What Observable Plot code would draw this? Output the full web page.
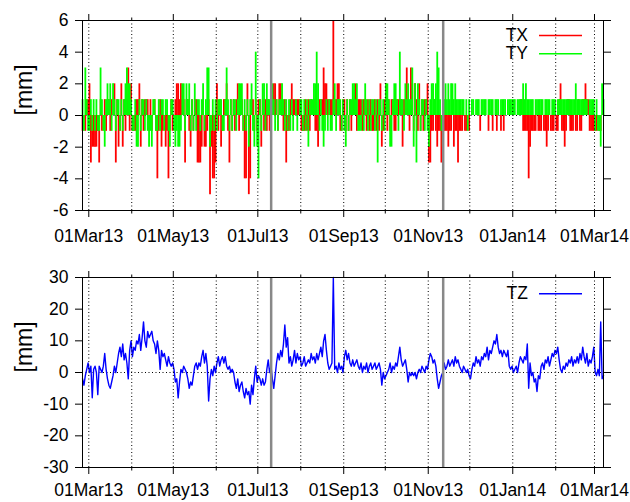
<!DOCTYPE html>
<html><head><meta charset="utf-8">
<script src="https://cdn.jsdelivr.net/npm/d3@7"></script>
<script src="https://cdn.jsdelivr.net/npm/@observablehq/plot@0.6"></script>
<style>
html,body{margin:0;padding:0;background:#fff;}
#chart svg{display:block;}
</style></head><body><div id="chart"></div>
<script>
const startDay = "2013-02-24";
const tx = [
-1,0,-1,1,1,2,-3,-2,-2,-2,
-2,-1,-3,1,-1,0,1,-1,0,1,
-1,1,0,2,-3,1,-2,-1,2,-2,
1,-1,1,3,-1,2,-1,-1,-1,1,
1,2,-2,1,-1,1,1,1,-1,1,
-1,0,1,-1,-4,-1,1,-2,-1,0,
-2,-1,-4,-1,1,-1,0,1,2,2,
1,2,1,1,-3,1,1,-1,-2,1,
-1,1,1,-3,-3,-3,-2,1,-2,-2,
-1,1,-5,-2,-4,-4,-3,2,-1,1,
-2,-1,1,1,2,-1,-3,1,-1,1,
-1,1,2,-1,1,1,-1,-4,-4,2,
-5,-4,1,1,-1,1,-1,1,1,-2,
1,-1,1,-1,1,-1,-1,1,2,2,
1,-1,2,2,1,-1,1,-3,-1,-1,
1,2,1,1,1,1,1,1,-1,-1,
-1,1,-1,1,-1,1,0,1,-1,-1,
-2,1,1,1,3,2,2,1,1,1,
1,6,1,1,2,2,-1,-1,1,1,
-1,1,-1,1,-1,1,1,2,-1,1,
1,1,-1,1,1,-1,1,-1,1,-1,
-1,1,-1,1,-1,2,-2,-1,1,2,
-1,1,-1,1,1,-1,-1,1,1,1,
1,-2,1,1,3,1,-1,3,2,-1,
2,1,-1,2,-1,1,-1,1,1,2,
-3,-3,-1,-1,1,-1,-2,-1,-1,-3,
-3,-1,-1,-1,-2,-1,-1,1,-2,-1,
-1,-3,-1,-1,-1,0,-1,-1,0,-1,
0,0,0,0,0,0,0,-1,0,0,
0,0,0,-1,0,0,-1,0,0,-1,
0,0,-1,0,-1,0,0,0,0,0,
0,0,0,0,0,0,1,1,-1,-1,
-1,-1,-4,-2,-1,-1,-1,-1,0,-1,
-1,-1,0,-1,-1,-2,-1,0,-1,-1,
-1,0,-1,-1,1,2,-1,-1,-2,-1,
1,1,-1,-1,-1,0,-1,-1,1,-1,
-1,1,1,2,1,1,-1,-1,-1,-1,
-1,-1,0,-1,-1,0,0];
const ty = [
1,-1,3,1,-1,-1,1,-1,1,-1,
1,-1,-1,3,1,-1,-2,1,2,1,
2,-1,2,1,-1,1,1,-1,1,-1,
1,2,3,2,2,1,-1,-1,1,-2,
-2,1,-1,1,1,-1,1,-1,-2,-1,
-2,1,1,-1,-1,1,-1,1,1,-1,
1,1,-1,-2,1,1,-1,-2,-1,-2,
-2,-1,2,2,-1,2,1,2,-1,1,
-1,2,-1,1,1,-1,1,2,-1,1,
3,3,-2,-1,1,-1,1,-1,1,1,
1,-1,-1,1,3,1,-1,1,-1,1,
1,-1,1,2,2,2,-1,1,-1,1,
-2,1,2,-1,-2,4,-2,-4,1,-1,
2,2,-1,2,1,1,-1,2,1,-1,
1,-1,1,1,2,1,-1,1,-1,1,
-1,1,-1,0,1,-1,0,1,1,-1,
1,-1,1,-2,1,1,1,2,2,4,
2,-1,1,-1,-2,-1,1,-1,1,-1,
-1,1,2,-1,1,1,1,-1,1,-1,
-2,1,-1,1,1,2,2,1,2,-1,
-1,-1,1,-1,2,1,-1,1,-1,1,
1,-1,1,-3,1,1,-1,1,-1,2,
2,1,-2,-2,1,2,2,1,-1,4,
1,1,-1,2,1,2,1,1,3,-2,
2,-3,2,1,-1,1,1,-1,1,-1,
-2,1,2,2,1,2,4,3,1,-1,
-2,1,2,1,2,1,2,2,1,2,
1,1,1,1,1,1,0,1,-1,1,
0,1,1,0,1,1,1,0,1,1,
1,1,0,1,1,1,1,0,1,1,
1,0,1,1,1,1,0,1,1,1,
1,1,1,0,1,1,1,1,2,1,
2,1,1,1,1,1,0,1,1,1,
1,1,1,0,1,1,1,1,0,1,
1,1,0,1,1,1,1,1,1,1,
1,1,1,1,1,1,2,1,1,1,
1,1,1,1,1,0,1,1,1,1,
-1,1,-1,-1,-2,2,1];
const tz = [
-2,-4,-1,1,3,0,2,-8,1,2,
0,-7,2,1,0,2,6,1,-2,-4,
-5,-3,-1,2,0,3,6,8,5,9,
4,6,3,-2,7,10,5,8,7,10,
9,12,7,11,16,10,8,13,11,12,
13,10,9,6,10,7,1,7,5,6,
4,2,5,3,2,3,1,-3,-2,-8,
-3,1,0,2,1,0,-2,-5,-3,-4,
-1,2,3,1,3,2,5,7,3,6,
2,-9,-2,1,-1,2,0,3,5,2,
4,5,3,5,2,1,2,0,1,0,
-3,-5,-2,-6,-4,-3,-6,-8,-5,-7,
-6,-10,-4,-7,-2,2,-3,-1,-2,-4,
-2,-4,-3,1,4,0,2,-2,-5,-1,
3,6,4,7,5,9,15,8,11,3,
5,2,4,7,3,6,4,5,2,3,
5,2,3,4,3,6,4,5,3,6,
4,6,8,5,10,12,7,3,1,2,
3,30,1,2,0,3,1,2,0,5,
7,4,6,3,2,4,2,3,4,2,
1,3,0,2,1,3,0,2,3,1,
2,3,1,2,3,1,-4,0,-2,-1,
0,1,3,0,2,1,3,2,5,8,
4,2,3,4,1,-3,0,-1,0,-1,
0,-2,0,1,0,2,1,0,2,1,
4,6,5,3,4,2,-2,-5,-3,-1,
0,3,1,2,4,2,3,4,2,5,
3,4,2,1,0,2,1,0,1,-1,
-2,1,3,2,5,3,4,2,5,4,
6,5,8,4,7,6,8,10,9,12,
8,6,7,5,7,6,5,7,2,1,
2,0,1,2,0,3,5,4,3,5,
4,9,-5,3,-1,0,-3,-2,-6,-1,
-2,2,3,1,4,3,5,2,4,6,
5,7,6,8,4,1,0,2,1,3,
2,4,3,5,2,4,3,5,3,6,
4,8,5,3,6,2,4,3,5,8,
0,-1,1,-1,16,-2,-1];
const events = ["2013-07-10T15:00Z", "2013-11-11T19:00Z"];
const majorTicks = ["2013-03-01","2013-05-01","2013-07-01","2013-09-01","2013-11-01","2014-01-01","2014-03-01"];
const minorTicks = ["2013-04-01","2013-06-01","2013-08-01","2013-10-01","2013-12-01","2014-02-01"];
const yTicksTop = [-6,-4,-2,0,2,4,6];
const yTicksBottom = [-30,-20,-10,0,10,20,30];
const xDomain = ["2013-02-24T11:00Z","2014-03-07T12:00Z"];
const yLabel = "[mm]";

const FONT = "'Liberation Sans', Arial, Helvetica, sans-serif";
const t0 = new Date(startDay + "T12:00Z").getTime();
const data = tz.map((v, i) => ({date: new Date(t0 + i * 864e5), tx: tx[i], ty: ty[i], tz: v}));
const major = majorTicks.map(d => new Date(d));
const minor = minorTicks.map(d => new Date(d));
const months = major.concat(minor);
const eventDates = events.map(d => new Date(d));
const fmt = d3.utcFormat("%d%b%y");
const blank = () => "";

function panel(height, mt, mb, pad, yDomain, yTicks, marks) {
  return Plot.plot({
    width: 630, height, marginTop: mt, marginBottom: mb, marginLeft: 82, marginRight: 27,
    style: {fontFamily: FONT, fontSize: "17.5px", background: "white", color: "black", overflow: "visible"},
    x: {type: "utc", domain: xDomain.map(d => new Date(d)), axis: null},
    y: {domain: yDomain, axis: null},
    marks: [
      Plot.ruleY([0], {stroke: "black", strokeDasharray: "1,2.5", strokeWidth: 1}),
      ...marks,
      Plot.gridX(months, {stroke: "black", strokeOpacity: 1, strokeDasharray: "1,2.5"}),
      Plot.ruleX(eventDates, {stroke: "#888", strokeWidth: 2.5}),
      Plot.frame({stroke: "black"}),
      Plot.axisX(major, {anchor: "bottom", tickSize: 7, tickPadding: pad, tickFormat: fmt, label: null, fontSize: 17.5}),
      Plot.axisX(minor, {anchor: "bottom", tickSize: 3.5, tickFormat: blank, label: null}),
      Plot.axisX(major, {anchor: "top", tickSize: 7, tickFormat: blank, label: null}),
      Plot.axisX(minor, {anchor: "top", tickSize: 3.5, tickFormat: blank, label: null}),
      Plot.axisY(yTicks, {anchor: "left", tickSize: 7, tickPadding: 7, tickFormat: d => String(d), label: null, fontSize: 17.5}),
      Plot.axisY(yTicks, {anchor: "right", tickSize: 7, tickFormat: blank, label: null}),
      Plot.text([yLabel], {frameAnchor: "left", rotate: -90, dx: -58, fontSize: 23})
    ]
  });
}

function legend(svg, items) {
  const s = d3.select(svg);
  items.forEach(({label, color, y}) => {
    s.append("text").attr("x", 528).attr("y", y).attr("text-anchor", "end")
      .attr("dominant-baseline", "central").attr("font-family", FONT).attr("font-size", 17.5)
      .attr("fill", "black").text(label);
    s.append("line").attr("x1", 539).attr("x2", 582).attr("y1", y + 0.5).attr("y2", y + 0.5)
      .attr("stroke", color).attr("stroke-width", 1.5);
  });
}

const topChart = panel(250, 20, 40, 12, [-6, 6], yTicksTop, [
  Plot.ruleX(data, {x: "date", y1: 0, y2: "tx", stroke: "#ff0000", strokeWidth: 1.8}),
  Plot.ruleX(data, {x: "date", y1: 0, y2: "ty", stroke: "#00ff00", strokeWidth: 1.8})
]);
legend(topChart, [{label: "TX", color: "#ff0000", y: 35}, {label: "TY", color: "#00ff00", y: 53.3}]);

const bottomChart = panel(252, 27, 35, 9, [-30, 30], yTicksBottom, [
  Plot.line(data, {x: "date", y: "tz", stroke: "#0000ff", strokeWidth: 1.4})
]);
legend(bottomChart, [{label: "TZ", color: "#0000ff", y: 43.3}]);

const chart = document.getElementById("chart");
chart.appendChild(topChart);
chart.appendChild(bottomChart);
</script></body></html>
